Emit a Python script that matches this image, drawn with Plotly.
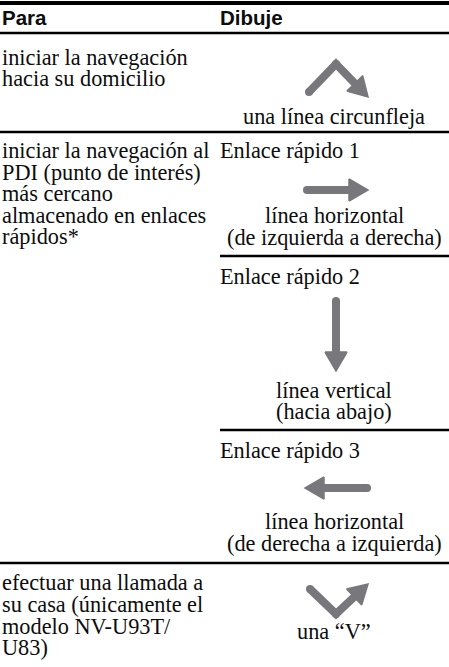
import math
import plotly.graph_objects as go

W, H = 449, 667

# ---- table content ----
header_labels = ["Para", "Dibuje"]
row1_left = ["iniciar la navegación", "hacia su domicilio"]
row2_left = ["iniciar la navegación al", "PDI (punto de interés)", "más cercano",
             "almacenado en enlaces", "rápidos*"]
row3_left = ["efectuar una llamada a", "su casa (únicamente el", "modelo NV-U93T/", "U83)"]
quick_titles = ["Enlace rápido 1", "Enlace rápido 2", "Enlace rápido 3"]
gesture_captions = [
    ["una línea circunfleja"],
    ["línea horizontal", "(de izquierda a derecha)"],
    ["línea vertical", "(hacia abajo)"],
    ["línea horizontal", "(de derecha a izquierda)"],
    ["una “V”"],
]
# gesture strokes (polyline in page units, arrow at the end)
gesture_paths = [
    [(309, 92), (336, 64), (368, 97)],
    [(307, 190), (368, 190)],
    [(336, 301), (336, 371)],
    [(367, 488), (305, 488)],
    [(310, 589), (336, 614), (368, 584)],
]

# ---- layout positions ----
left_x = 0
right_x = 218
right_cx = 334
row1_y = [57, 78]
row2_y = [150, 172, 193, 215, 236]
row3_y = [582, 604, 626, 647]
quick_y = [150, 276, 450]
caption_y = [[116], [215, 237], [390, 411], [521, 543], [631]]
rules = [  # (x0, x1, y, width)
    (0, W, 3, 4),
    (0, W, 33, 2.5),
    (0, W, 132, 2.5),
    (220, W, 256, 2.5),
    (220, W, 430, 2.5),
    (0, W, 563, 2.5),
]

SERIF = "Liberation Serif"
SANS = "Liberation Sans"
FS = 22.3
GRAY = "#78787c"
INK = "#0d0d0d"

fig = go.Figure()
annotations = []


def txt(x, y, s, xanchor="left", font=SERIF, size=FS, bold=False):
    annotations.append(dict(
        x=x, y=y, xref="x", yref="y", text=("<b>%s</b>" % s) if bold else s,
        showarrow=False, xanchor=xanchor, yanchor="middle",
        font=dict(family=font, size=size, color=INK),
    ))


txt(left_x, 17, header_labels[0], font=SANS, size=20.5, bold=True)
txt(right_x, 17, header_labels[1], font=SANS, size=20.5, bold=True)
for s, y in zip(row1_left, row1_y):
    txt(left_x, y, s)
for s, y in zip(row2_left, row2_y):
    txt(left_x, y, s)
for s, y in zip(row3_left, row3_y):
    txt(left_x, y, s)
for s, y in zip(quick_titles, quick_y):
    txt(right_x, y, s)
for caps, ys in zip(gesture_captions, caption_y):
    for s, y in zip(caps, ys):
        txt(right_cx, y, s, xanchor="center")

shapes = []
for x0, x1, y, lw in rules:
    shapes.append(dict(type="line", xref="x", yref="y", x0=x0, x1=x1, y0=y, y1=y,
                       line=dict(color="black", width=lw)))

HEAD_L, HEAD_W, SHAFT = 19, 22, 8
for path in gesture_paths:
    (px, py), (tx, ty) = path[-2], path[-1]
    L = math.hypot(tx - px, ty - py)
    dx, dy = (tx - px) / L, (ty - py) / L
    nx, ny = -dy, dx
    bx, by = tx - dx * HEAD_L, ty - dy * HEAD_L
    shaft = list(path[:-1]) + [(bx + dx * 2, by + dy * 2)]
    fig.add_trace(go.Scatter(
        x=[p[0] for p in shaft], y=[p[1] for p in shaft], mode="lines",
        line=dict(color=GRAY, width=SHAFT), hoverinfo="skip"))
    fig.add_trace(go.Scatter(
        x=[p[0] for p in path[:-1]], y=[p[1] for p in path[:-1]], mode="markers",
        marker=dict(color=GRAY, size=SHAFT, line=dict(width=0)), hoverinfo="skip"))
    tri_x = [bx + nx * HEAD_W / 2, tx, bx - nx * HEAD_W / 2, bx + nx * HEAD_W / 2]
    tri_y = [by + ny * HEAD_W / 2, ty, by - ny * HEAD_W / 2, by + ny * HEAD_W / 2]
    fig.add_trace(go.Scatter(x=tri_x, y=tri_y, mode="lines", fill="toself",
                             fillcolor=GRAY, line=dict(color=GRAY, width=1.5),
                             hoverinfo="skip"))

fig.update_layout(
    width=W, height=H, margin=dict(l=0, r=0, t=0, b=0),
    paper_bgcolor="white", plot_bgcolor="white", showlegend=False,
    xaxis=dict(range=[0, W], visible=False, fixedrange=True),
    yaxis=dict(range=[H, 0], visible=False, fixedrange=True),
    annotations=annotations, shapes=shapes,
)
fig.write_html("out.html", config={"displayModeBar": False},
               post_script="document.body.style.margin='0';document.body.style.overflow='hidden';")
